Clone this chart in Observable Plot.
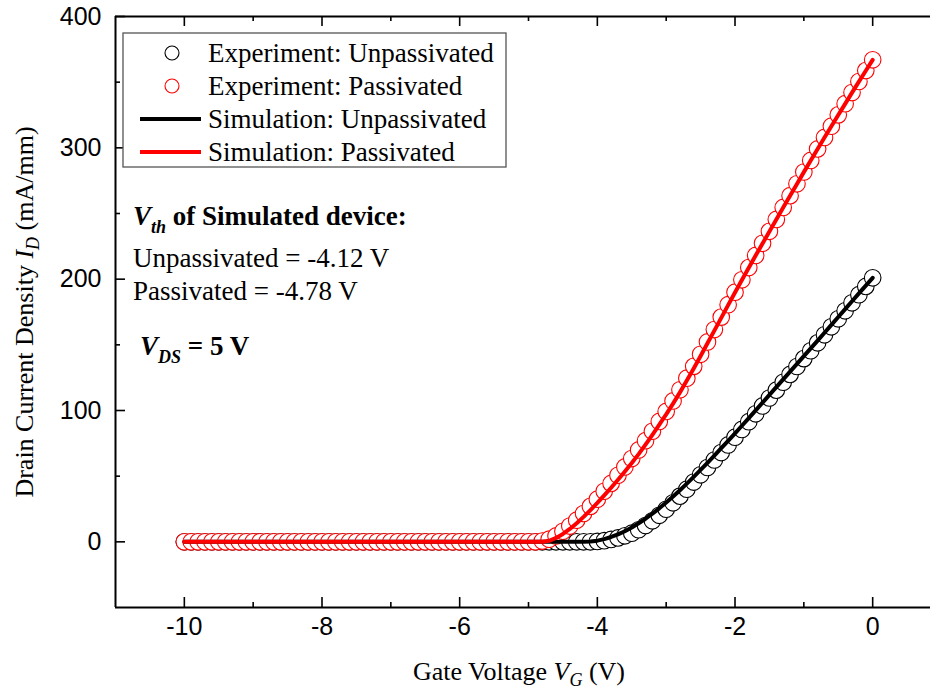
<!DOCTYPE html>
<html><head><meta charset="utf-8">
<script src="https://cdn.jsdelivr.net/npm/d3@7"></script>
<script src="https://cdn.jsdelivr.net/npm/@observablehq/plot@0.6"></script>
<style>body{margin:0;background:#fff}</style>
</head><body><div id="chart"></div>
<script>
// Gate voltage grid of the measured points (V)
const vg = [-10,-9.9,-9.8,-9.7,-9.6,-9.5,-9.4,-9.3,-9.2,-9.1,
  -9,-8.9,-8.8,-8.7,-8.6,-8.5,-8.4,-8.3,-8.2,-8.1,
  -8,-7.9,-7.8,-7.7,-7.6,-7.5,-7.4,-7.3,-7.2,-7.1,
  -7,-6.9,-6.8,-6.7,-6.6,-6.5,-6.4,-6.3,-6.2,-6.1,
  -6,-5.9,-5.8,-5.7,-5.6,-5.5,-5.4,-5.3,-5.2,-5.1,
  -5,-4.9,-4.8,-4.7,-4.6,-4.5,-4.4,-4.3,-4.2,-4.1,
  -4,-3.9,-3.8,-3.7,-3.6,-3.5,-3.4,-3.3,-3.2,-3.1,
  -3,-2.9,-2.8,-2.7,-2.6,-2.5,-2.4,-2.3,-2.2,-2.1,
  -2,-1.9,-1.8,-1.7,-1.6,-1.5,-1.4,-1.3,-1.2,-1.1,
  -1,-0.9,-0.8,-0.7,-0.6,-0.5,-0.4,-0.3,-0.2,-0.1,0];
// Experiment: Unpassivated (mA/mm)
const expUnpass = [0,0,0,0,0,0,0,0,0,0,
  0,0,0,0,0,0,0,0,0,0,
  0,0,0,0,0,0,0,0,0,0,
  0,0,0,0,0,0,0,0,0,0,
  0,0,0,0,0,0,0,0,0,0,
  0,0,0,0,0,0,0,0,0,0,
  0.3,0.9,1.8,3,4.6,6.6,9.2,12.4,16,20.2,
  24.8,29.7,34.8,40.1,45.5,51,56.6,62.3,68,73.8,
  79.7,85.6,91.5,97.5,103.5,109.5,115.5,121.5,127.5,133.5,
  139.5,145.5,151.5,157.6,163.7,169.8,175.9,182,188.2,194.5,201];
// Experiment: Passivated (mA/mm)
const expPass = [0,0,0,0,0,0,0,0,0,0,
  0,0,0,0,0,0,0,0,0,0,
  0,0,0,0,0,0,0,0,0,0,
  0,0,0,0,0,0,0,0,0,0,
  0,0,0,0,0,0,0,0,0,0,
  0,0,0.6,2,4.5,8,12,16.5,21.5,27,
  32.5,38.5,44.5,50.7,57,63.4,70,77,84.2,91.7,
  99.3,107.3,115.8,124.6,133.6,142.8,152.2,161.6,171.1,180.6,
  190.1,199.5,208.8,218.1,227.3,236.4,245.5,254.6,263.6,272.6,
  281.6,290.4,299.2,307.9,316.5,325.1,333.6,342.1,350.5,358.8,367];
// Simulation: Unpassivated
const simUnpassV = [-10,-4.2,-4.1,-4,-3.9,-3.8,-3.7,-3.6,-3.5,-3.4,-3.3,-3.2,-3.1,
  -3,-2.9,-2.8,-2.7,-2.6,-2.5,-2.4,-2.3,-2.2,-2.1,
  -2,-1.9,-1.8,-1.7,-1.6,-1.5,-1.4,-1.3,-1.2,-1.1,
  -1,-0.9,-0.8,-0.7,-0.6,-0.5,-0.4,-0.3,-0.2,-0.1,0];
const simUnpassI = [0,0,0.2,0.9,2.1,3.7,5.7,8.1,10.9,14.1,17.6,21.4,25.5,
  29.9,34.5,39.3,44.3,49.5,54.8,60.2,65.7,71.3,76.9,
  82.6,88.4,94.2,100.1,106,111.9,117.8,123.7,129.6,135.5,
  141.4,147.3,153.2,159.2,165.2,171.2,177.2,183.2,189.2,195.1,201];
// Simulation: Passivated
const simPassV = [-10,-4.8,-4.7,-4.6,-4.5,-4.4,-4.3,-4.2,-4.1,
  -4,-3.9,-3.8,-3.7,-3.6,-3.5,-3.4,-3.3,-3.2,-3.1,
  -3,-2.9,-2.8,-2.7,-2.6,-2.5,-2.4,-2.3,-2.2,-2.1,
  -2,-1.9,-1.8,-1.7,-1.6,-1.5,-1.4,-1.3,-1.2,-1.1,
  -1,-0.9,-0.8,-0.7,-0.6,-0.5,-0.4,-0.3,-0.2,-0.1,0];
const simPassI = [0,0,0.8,3,6,9.8,14.2,19,24.2,
  29.6,35.3,41.2,47.3,53.6,60,66.8,74,81.5,89.2,
  97,105.2,113.8,122.8,132,141.5,151.2,160.8,170.5,180.2,
  189.9,199.4,208.7,218,227.2,236.3,245.4,254.5,263.5,272.5,
  281.5,290.3,299.1,307.8,316.4,325,333.5,342,350.4,358.7,367];

const xMajor = [-10,-8,-6,-4,-2,0];
const xMinor = [-9,-7,-5,-3,-1];
const yMajor = [0,100,200,300,400];
const yMinor = [50,150,250,350];
const xFrame = [-11];
const yFrame = [-50,400];

const legendItems = ["Experiment: Unpassivated","Experiment: Passivated","Simulation: Unpassivated","Simulation: Passivated"];
const legendColors = ["black","#ff0000","black","#ff0000"];
const legendKinds = ["circle","circle","line","line"];

const expU = vg.map((v,i)=>({v, c: expUnpass[i]}));
const expP = vg.map((v,i)=>({v, c: expPass[i]}));
const simU = simUnpassV.map((v,i)=>({v, c: simUnpassI[i]}));
const simP = simPassV.map((v,i)=>({v, c: simPassI[i]}));

const sans = "Liberation Sans, Arial, sans-serif";
const serif = "Liberation Serif, Times New Roman, serif";

const W = 930, H = 694, mT = 16, mR = 0, mB = 87, mL = 115;
const innerH = H - mT - mB, innerW = W - mL - mR;

const chart = Plot.plot({
  width: W, height: H,
  marginTop: mT, marginRight: mR, marginBottom: mB, marginLeft: mL,
  x: {domain: [-11, 0.84]},
  y: {domain: [-50, 400]},
  style: {background: "white", overflow: "visible"},
  marks: [
    Plot.dot(expU, {x: "v", y: "c", r: 8.3, stroke: "black", fill: "white", strokeWidth: 1.1}),
    Plot.dot(expP, {x: "v", y: "c", r: 8.3, stroke: "#ff0000", fill: "white", strokeWidth: 1.1}),
    Plot.line(simU, {x: "v", y: "c", stroke: "black", strokeWidth: 4}),
    Plot.line(simP, {x: "v", y: "c", stroke: "#ff0000", strokeWidth: 4}),
    // frame (left, bottom, top)
    Plot.ruleX(xFrame, {x: d => d, stroke: "black", strokeWidth: 2}),
    Plot.ruleY(yFrame, {y: d => d, stroke: "black", strokeWidth: 2}),
    // inward ticks bottom
    Plot.tickX(xMajor, {x: d => d, insetTop: innerH - 10, stroke: "black", strokeWidth: 1.6}),
    Plot.tickX(xMinor, {x: d => d, insetTop: innerH - 5, stroke: "black", strokeWidth: 1.6}),
    // inward ticks top
    Plot.tickX(xMajor, {x: d => d, insetBottom: innerH - 10, stroke: "black", strokeWidth: 1.6}),
    Plot.tickX(xMinor, {x: d => d, insetBottom: innerH - 5, stroke: "black", strokeWidth: 1.6}),
    // inward ticks left
    Plot.tickY(yMajor, {y: d => d, insetRight: innerW - 10, stroke: "black", strokeWidth: 1.6}),
    Plot.tickY(yMinor, {y: d => d, insetRight: innerW - 5, stroke: "black", strokeWidth: 1.6}),
    Plot.axisX(xMajor, {tickSize: 0, tickPadding: 10, fontSize: 25, fontFamily: sans, fill: "black", tickFormat: d => String(d), label: null}),
    Plot.axisY(yMajor, {tickSize: 0, tickPadding: 14, fontSize: 25, fontFamily: sans, fill: "black", tickFormat: d => String(d), label: null})
  ]
});

document.getElementById("chart").appendChild(chart);
const svg = d3.select(chart);

// Axis titles
const xt = svg.append("text").attr("x", 519).attr("y", 680).attr("text-anchor", "middle")
  .attr("font-family", serif).attr("font-size", 26).attr("fill", "black");
xt.append("tspan").text("Gate Voltage ");
xt.append("tspan").attr("font-style", "italic").text("V");
xt.append("tspan").attr("font-style", "italic").attr("font-size", 18).attr("dy", 6).text("G");
xt.append("tspan").attr("dy", -6).text(" (V)");

const yt = svg.append("text").attr("transform", "translate(33,312) rotate(-90)").attr("text-anchor", "middle")
  .attr("font-family", serif).attr("font-size", 26).attr("fill", "black");
yt.append("tspan").text("Drain Current Density ");
yt.append("tspan").attr("font-style", "italic").text("I");
yt.append("tspan").attr("font-style", "italic").attr("font-size", 18).attr("dy", 6).text("D");
yt.append("tspan").attr("dy", -6).text(" (mA/mm)");

// Legend
const lg = svg.append("g").attr("text-anchor", "start");
lg.append("rect").attr("x", 123).attr("y", 33).attr("width", 383).attr("height", 134)
  .attr("fill", "white").attr("stroke", "#555").attr("stroke-width", 1.3);
legendItems.forEach((t, i) => {
  const cy = 53 + i * 33;
  if (legendKinds[i] === "circle") {
    lg.append("circle").attr("cx", 172).attr("cy", cy).attr("r", 7)
      .attr("fill", "white").attr("stroke", legendColors[i]).attr("stroke-width", 1.1);
  } else {
    lg.append("line").attr("x1", 140).attr("x2", 201).attr("y1", cy).attr("y2", cy)
      .attr("stroke", legendColors[i]).attr("stroke-width", 4);
  }
  lg.append("text").attr("x", 208).attr("y", cy + 9).attr("font-family", serif)
    .attr("text-anchor", "start").attr("font-size", 27).attr("fill", "black").text(t);
});

// Annotations
const ann = svg.append("g").attr("text-anchor", "start");
const a1 = ann.append("text").attr("x", 133).attr("y", 225).attr("font-family", serif)
  .attr("text-anchor", "start").attr("font-size", 27).attr("font-weight", "bold").attr("fill", "black");
a1.append("tspan").attr("font-style", "italic").text("V");
a1.append("tspan").attr("font-style", "italic").attr("font-size", 18).attr("dy", 8).text("th");
a1.append("tspan").attr("dy", -8).text(" of Simulated device:");

ann.append("text").attr("x", 133).attr("y", 267).attr("font-family", serif)
  .attr("text-anchor", "start").attr("font-size", 27).attr("fill", "black").text("Unpassivated = -4.12 V");
ann.append("text").attr("x", 133).attr("y", 300).attr("font-family", serif)
  .attr("text-anchor", "start").attr("font-size", 27).attr("fill", "black").text("Passivated = -4.78 V");

const a2 = ann.append("text").attr("x", 140).attr("y", 355).attr("font-family", serif)
  .attr("text-anchor", "start").attr("font-size", 27).attr("font-weight", "bold").attr("fill", "black");
a2.append("tspan").attr("font-style", "italic").text("V");
a2.append("tspan").attr("font-style", "italic").attr("font-size", 18).attr("dy", 8).text("DS");
a2.append("tspan").attr("dy", -8).text(" = 5 V");
</script>
</body></html>
